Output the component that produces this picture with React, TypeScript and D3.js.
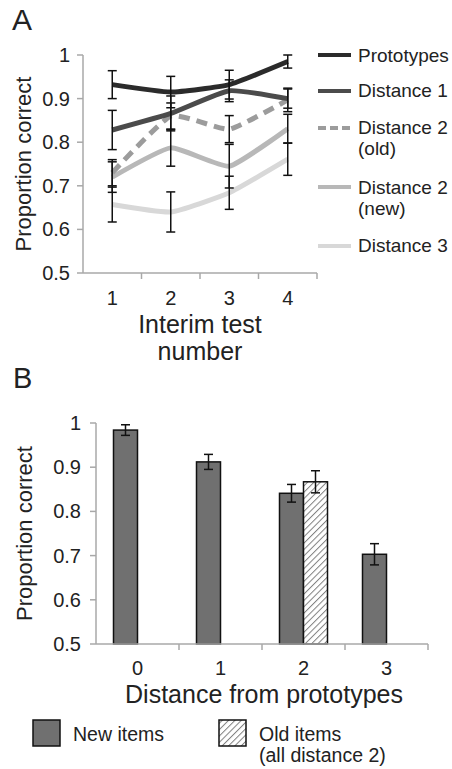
import * as d3 from "d3";
import React from "react";

// Panel A: proporcion correcta por prueba intermedia
const tests = ["1", "2", "3", "4"];
const seriesNames = ["Prototypes", "Distance 1", "Distance 2 (old)", "Distance 2 (new)", "Distance 3"];
const prototypes = [0.932, 0.915, 0.932, 0.985];
const prototypesErr = [0.032, 0.036, 0.033, 0.015];
const distance1 = [0.828, 0.866, 0.918, 0.9];
const distance1Err = [0.045, 0.04, 0.025, 0.022];
const distance2Old = [0.73, 0.86, 0.83, 0.897];
const distance2OldErr = [0.03, 0.03, 0.031, 0.027];
const distance2New = [0.72, 0.787, 0.745, 0.831];
const distance2NewErr = [0.035, 0.042, 0.05, 0.033];
const distance3 = [0.657, 0.64, 0.684, 0.761];
const distance3Err = [0.04, 0.046, 0.038, 0.037];
const yTicks = [0.5, 0.6, 0.7, 0.8, 0.9, 1];

// Panel B: barras por distancia
const distances = ["0", "1", "2", "3"];
const newItems = [0.984, 0.912, 0.841, 0.703];
const newItemsErr = [0.012, 0.017, 0.02, 0.024];
const oldItems = [null, null, 0.867, null];
const oldItemsErr = [null, null, 0.025, null];

const font = "'Liberation Sans', Arial, Helvetica, sans-serif";
const textColor = "#222";
const axisColor = "#a8a8a8";

const lineStyles = [
  { color: "#2b2b2b", dash: null },
  { color: "#4b4b4b", dash: null },
  { color: "#9c9c9c", dash: "11,7" },
  { color: "#b8b8b8", dash: null },
  { color: "#d8d8d8", dash: null },
];

function ErrorBar({ x, y1, y2, cap = 4.5 }) {
  return (
    <g stroke="#111" strokeWidth={1.5}>
      <line x1={x} x2={x} y1={y1} y2={y2} />
      <line x1={x - cap} x2={x + cap} y1={y1} y2={y1} />
      <line x1={x - cap} x2={x + cap} y1={y2} y2={y2} />
    </g>
  );
}

function PanelA() {
  const x = d3.scaleBand().domain(tests).range([83, 317]).padding(0);
  const y = d3.scaleLinear().domain([0.5, 1]).range([273, 55]);
  const values = [prototypes, distance1, distance2Old, distance2New, distance3];
  const errors = [prototypesErr, distance1Err, distance2OldErr, distance2NewErr, distance3Err];
  const cx = (t) => x(t) + x.bandwidth() / 2;
  const line = d3
    .line()
    .x((d, i) => cx(tests[i]))
    .y((d) => y(d))
    .curve(d3.curveCardinal.tension(0.55));
  const boundaries = tests.map((t) => x(t) + x.bandwidth());

  const legendRows = [
    { line: 55, labels: [["Prototypes", 62]] },
    { line: 91, labels: [["Distance 1", 97]] },
    { line: 128, labels: [["Distance 2", 134], ["(old)", 155]] },
    { line: 187, labels: [["Distance 2", 194], ["(new)", 215]] },
    { line: 246, labels: [["Distance 3", 252]] },
  ];

  return (
    <g>
      <text x={12} y={30} fontSize={30} fontFamily={font} fill={textColor}>A</text>
      {/* eje y */}
      <line x1={83} x2={83} y1={y(1)} y2={y(0.5)} stroke={axisColor} strokeWidth={1.5} />
      {yTicks.map((t) => (
        <g key={t}>
          <line x1={77} x2={83} y1={y(t)} y2={y(t)} stroke={axisColor} strokeWidth={1.5} />
          <text x={70} y={y(t)} dy="0.35em" textAnchor="end" fontSize={20} fontFamily={font} fill={textColor}>
            {t === 1 ? "1" : t.toFixed(1)}
          </text>
        </g>
      ))}
      {/* eje x */}
      <line x1={83} x2={317} y1={273} y2={273} stroke={axisColor} strokeWidth={1.5} />
      {boundaries.map((b) => (
        <line key={b} x1={b} x2={b} y1={273} y2={279} stroke={axisColor} strokeWidth={1.5} />
      ))}
      {tests.map((t) => (
        <text key={t} x={cx(t)} y={305} textAnchor="middle" fontSize={20} fontFamily={font} fill={textColor}>
          {t}
        </text>
      ))}
      <text x={200} y={333} textAnchor="middle" fontSize={25} fontFamily={font} fill={textColor}>Interim test</text>
      <text x={200} y={360} textAnchor="middle" fontSize={25} fontFamily={font} fill={textColor}>number</text>
      <text
        transform={`translate(31, ${(y(1) + y(0.5)) / 2}) rotate(-90)`}
        textAnchor="middle"
        fontSize={22}
        fontFamily={font}
        fill={textColor}
      >
        Proportion correct
      </text>
      {/* lineas */}
      {values
        .map((v, i) => (
          <path
            key={seriesNames[i]}
            d={line(v)}
            fill="none"
            stroke={lineStyles[i].color}
            strokeWidth={5}
            strokeDasharray={lineStyles[i].dash || undefined}
            strokeLinejoin="round"
          />
        ))
        .reverse()}
      {/* barras de error */}
      {values.map((v, i) =>
        v.map((d, j) => (
          <ErrorBar key={`${i}-${j}`} x={cx(tests[j])} y1={y(d + errors[i][j])} y2={y(d - errors[i][j])} />
        ))
      )}
      {/* leyenda */}
      {legendRows.map((r, i) => (
        <g key={i}>
          <line
            x1={318}
            x2={351}
            y1={r.line}
            y2={r.line}
            stroke={lineStyles[i].color}
            strokeWidth={4}
            strokeDasharray={lineStyles[i].dash ? "8,4" : undefined}
          />
          {r.labels.map(([txt, yy]) => (
            <text key={txt} x={358} y={yy} fontSize={19} fontFamily={font} fill={textColor}>
              {txt}
            </text>
          ))}
        </g>
      ))}
    </g>
  );
}

function PanelB() {
  const x = d3.scaleBand().domain(distances).range([96, 428]).padding(0);
  const bw = x.bandwidth();
  const sub = d3.scaleBand().domain(["new", "old"]).range([bw / 2 - 24, bw / 2 + 24]);
  const y = d3.scaleLinear().domain([0.5, 1]).range([644, 423]);
  const boundaries = distances.map((d) => x(d) + bw);
  const barFill = "#707070";

  return (
    <g>
      <defs>
        <pattern id="hatch" patternUnits="userSpaceOnUse" width={4.5} height={4.5} patternTransform="rotate(45)">
          <rect width={4.5} height={4.5} fill="#fff" />
          <line x1={0} y1={0} x2={0} y2={4.5} stroke="#808080" strokeWidth={2} />
        </pattern>
      </defs>
      <text x={13} y={388} fontSize={29} fontFamily={font} fill={textColor}>B</text>
      {/* eje y */}
      <line x1={96} x2={96} y1={y(1)} y2={y(0.5)} stroke={axisColor} strokeWidth={1.5} />
      {yTicks.map((t) => (
        <g key={t}>
          <line x1={90} x2={96} y1={y(t)} y2={y(t)} stroke={axisColor} strokeWidth={1.5} />
          <text x={81} y={y(t)} dy="0.35em" textAnchor="end" fontSize={20} fontFamily={font} fill={textColor}>
            {t === 1 ? "1" : t.toFixed(1)}
          </text>
        </g>
      ))}
      <text
        transform={`translate(32, ${(y(1) + y(0.5)) / 2}) rotate(-90)`}
        textAnchor="middle"
        fontSize={22}
        fontFamily={font}
        fill={textColor}
      >
        Proportion correct
      </text>
      {/* barras */}
      {distances.map((d, i) => (
        <g key={d}>
          <rect
            x={x(d) + sub("new")}
            y={y(newItems[i])}
            width={sub.bandwidth()}
            height={y(0.5) - y(newItems[i])}
            fill={barFill}
            stroke="#111"
            strokeWidth={1.5}
          />
          {oldItems[i] != null && (
            <rect
              x={x(d) + sub("old")}
              y={y(oldItems[i])}
              width={sub.bandwidth()}
              height={y(0.5) - y(oldItems[i])}
              fill="url(#hatch)"
              stroke="#111"
              strokeWidth={1.5}
            />
          )}
        </g>
      ))}
      {distances.map((d, i) => (
        <g key={"e" + d}>
          <ErrorBar
            x={x(d) + sub("new") + sub.bandwidth() / 2}
            y1={y(newItems[i] + newItemsErr[i])}
            y2={y(newItems[i] - newItemsErr[i])}
          />
          {oldItems[i] != null && (
            <ErrorBar
              x={x(d) + sub("old") + sub.bandwidth() / 2}
              y1={y(oldItems[i] + oldItemsErr[i])}
              y2={y(oldItems[i] - oldItemsErr[i])}
            />
          )}
        </g>
      ))}
      {/* eje x */}
      <line x1={96} x2={428} y1={644} y2={644} stroke={axisColor} strokeWidth={1.5} />
      {boundaries.map((b) => (
        <line key={b} x1={b} x2={b} y1={644} y2={650} stroke={axisColor} strokeWidth={1.5} />
      ))}
      {distances.map((d) => (
        <text key={d} x={x(d) + bw / 2} y={675} textAnchor="middle" fontSize={20} fontFamily={font} fill={textColor}>
          {d}
        </text>
      ))}
      <text x={264} y={703} textAnchor="middle" fontSize={25} fontFamily={font} fill={textColor}>
        Distance from prototypes
      </text>
      {/* leyenda */}
      <rect x={33} y={720} width={27} height={26} fill={barFill} stroke="#111" strokeWidth={1.5} />
      <text x={73} y={741} fontSize={19.5} fontFamily={font} fill={textColor}>New items</text>
      <rect x={219} y={720} width={27} height={26} fill="url(#hatch)" stroke="#111" strokeWidth={1.5} />
      <text x={259} y={741} fontSize={19.5} fontFamily={font} fill={textColor}>Old items</text>
      <text x={259} y={762} fontSize={19.5} fontFamily={font} fill={textColor}>(all distance 2)</text>
    </g>
  );
}

export default function App() {
  return (
    <svg
      width={452}
      height={769}
      style={{ position: "absolute", left: 0, top: 0, background: "#fff" }}
    >
      <PanelA />
      <PanelB />
    </svg>
  );
}
